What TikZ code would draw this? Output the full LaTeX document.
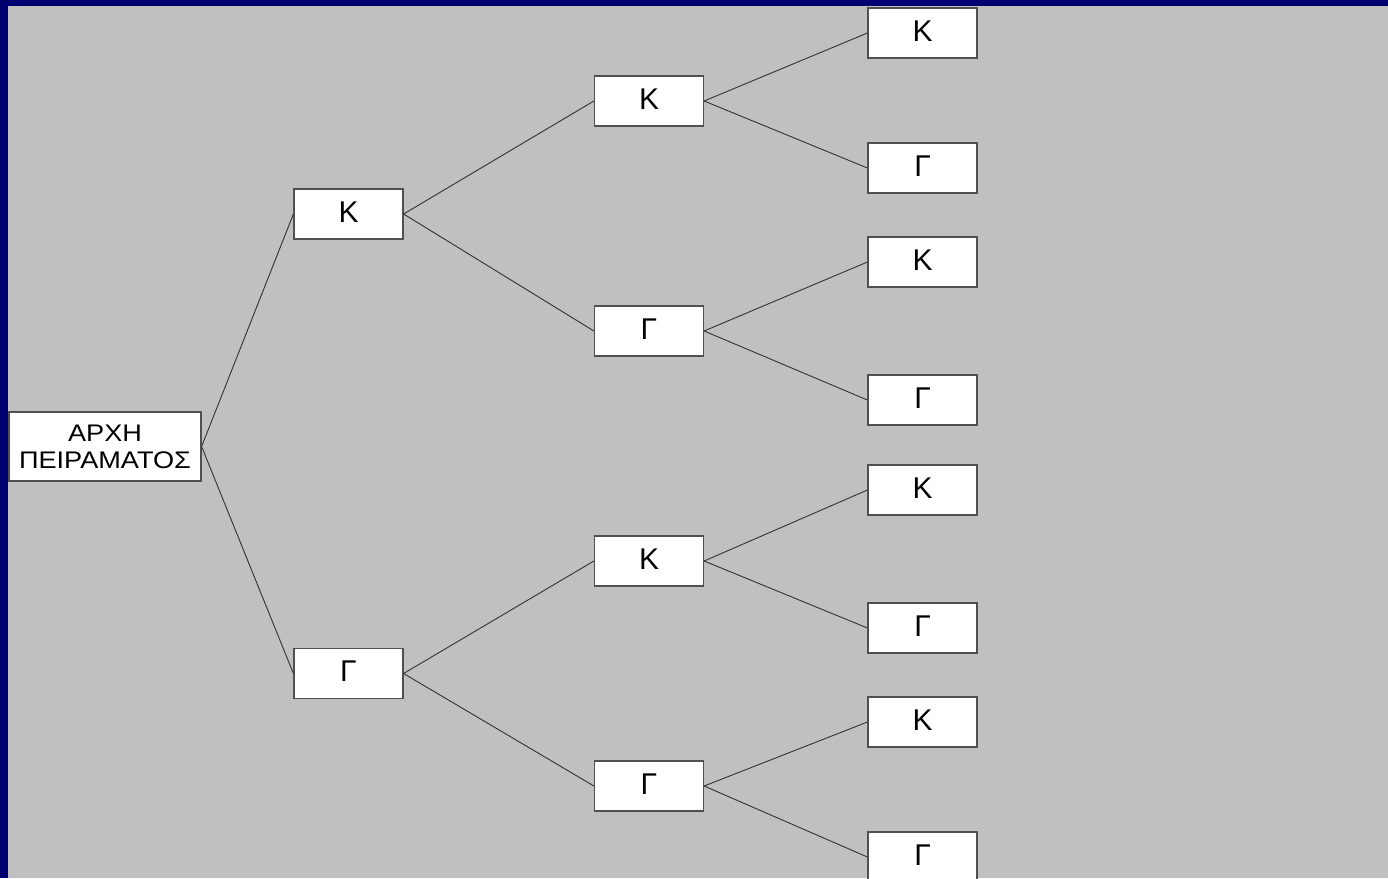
\documentclass[tikz,border=0pt]{standalone}
\usepackage{fontspec}
\setmainfont{Liberation Sans}
\definecolor{navy}{RGB}{0,0,112}
\definecolor{slidegray}{RGB}{192,192,192}
\definecolor{boxline}{RGB}{80,80,80}
\definecolor{edgeline}{RGB}{50,50,50}
\begin{document}
\begin{tikzpicture}[x=1pt,y=-1pt,
  box/.style={draw=boxline,line width=1.2pt,fill=white,inner sep=0pt,
    minimum width=109pt,minimum height=50pt,text depth=4pt,
    font=\fontsize{30}{30}\selectfont},
  rootbox/.style={draw=boxline,line width=1.2pt,fill=white,inner sep=0pt,
    minimum width=192pt,minimum height=69pt,align=center,
    font=\fontsize{24}{27}\selectfont},
  edge/.style={draw=edgeline,line width=0.9pt}]
\useasboundingbox (0,0) rectangle (1388,878);
\fill[navy] (0,0) rectangle (1388,878);
\fill[slidegray] (8,6) rectangle (1388,878);
% root
\node[rootbox] (r) at (105,446.5) {\scalebox{1.13}[1]{ΑΡΧΗ}\\\scalebox{1.13}[1]{ΠΕΙΡΑΜΑΤΟΣ}};
% level 1
\node[box] (a) at (348.5,214) {Κ};
\node[box] (b) at (348.5,673.5) {Γ};
% level 2
\node[box] (aa) at (649,101) {Κ};
\node[box] (ab) at (649,331) {Γ};
\node[box] (ba) at (649,561) {Κ};
\node[box] (bb) at (649,786) {Γ};
% level 3
\node[box] (aaa) at (922.5,33) {Κ};
\node[box] (aab) at (922.5,168) {Γ};
\node[box] (aba) at (922.5,262) {Κ};
\node[box] (abb) at (922.5,400) {Γ};
\node[box] (baa) at (922.5,490) {Κ};
\node[box] (bab) at (922.5,628) {Γ};
\node[box] (bba) at (922.5,722) {Κ};
\node[box] (bbb) at (922.5,857) {Γ};
% edges
\draw[edge] (r.east) -- (a.west);
\draw[edge] (r.east) -- (b.west);
\draw[edge] (a.east) -- (aa.west);
\draw[edge] (a.east) -- (ab.west);
\draw[edge] (b.east) -- (ba.west);
\draw[edge] (b.east) -- (bb.west);
\draw[edge] (aa.east) -- (aaa.west);
\draw[edge] (aa.east) -- (aab.west);
\draw[edge] (ab.east) -- (aba.west);
\draw[edge] (ab.east) -- (abb.west);
\draw[edge] (ba.east) -- (baa.west);
\draw[edge] (ba.east) -- (bab.west);
\draw[edge] (bb.east) -- (bba.west);
\draw[edge] (bb.east) -- (bbb.west);
\end{tikzpicture}
\end{document}
